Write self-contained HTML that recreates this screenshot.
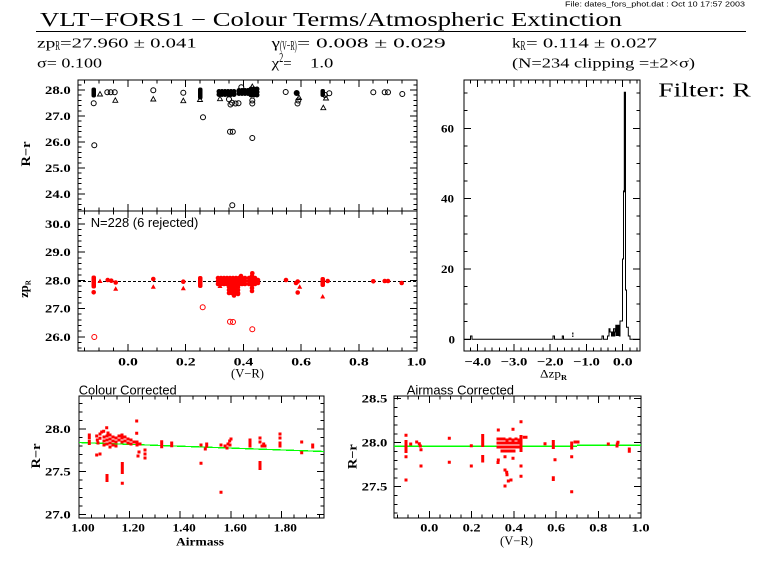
<!DOCTYPE html>
<html><head><meta charset="utf-8"><style>
html,body{margin:0;padding:0;background:#fff;}
svg{display:block;}
.s{font-family:"Liberation Serif",serif;}
.t{font-family:"Liberation Serif",serif;font-weight:bold;font-size:11.5px;}
.h{font-family:"Liberation Serif",serif;font-size:14px;}
.sa{font-family:"Liberation Sans",sans-serif;}
</style></head><body>
<svg width="768" height="574" viewBox="0 0 768 574" xmlns="http://www.w3.org/2000/svg">
<rect width="768" height="574" fill="#fff"/>
<defs>
<path id="xtA" d="M84.7 0v3.5M99.2 0v3.5M113.6 0v3.5M128 0v7M142.4 0v3.5M156.9 0v3.5M171.3 0v3.5M185.7 0v7M200.1 0v3.5M214.6 0v3.5M229 0v3.5M243.4 0v7M257.8 0v3.5M272.3 0v3.5M286.7 0v3.5M301.1 0v7M315.5 0v3.5M330 0v3.5M344.4 0v3.5M358.8 0v7M373.2 0v3.5M387.7 0v3.5M402.1 0v3.5"/>
<path id="ytTop" d="M0 84.8h3.5M0 90h7M0 95.2h3.5M0 100.4h3.5M0 105.6h3.5M0 110.8h3.5M0 116h7M0 121.2h3.5M0 126.4h3.5M0 131.6h3.5M0 136.8h3.5M0 142h7M0 147.2h3.5M0 152.4h3.5M0 157.6h3.5M0 162.8h3.5M0 168h7M0 173.2h3.5M0 178.4h3.5M0 183.6h3.5M0 188.8h3.5M0 194h7M0 199.2h3.5M0 204.4h3.5M0 209.6h3.5"/>
<path id="ytMid" d="M0 218.4h3.5M0 224h7M0 229.6h3.5M0 235.3h3.5M0 240.9h3.5M0 246.6h3.5M0 252.2h7M0 257.8h3.5M0 263.5h3.5M0 269.1h3.5M0 274.8h3.5M0 280.4h7M0 286h3.5M0 291.7h3.5M0 297.3h3.5M0 303h3.5M0 308.6h7M0 314.2h3.5M0 319.9h3.5M0 325.5h3.5M0 331.2h3.5M0 336.8h7M0 342.4h3.5M0 348.1h3.5"/>
<path id="xtH" d="M470.5 0v3.5M477.7 0v7M485 0v3.5M492.2 0v3.5M499.5 0v3.5M506.7 0v3.5M514 0v7M521.2 0v3.5M528.5 0v3.5M535.7 0v3.5M543 0v3.5M550.2 0v7M557.5 0v3.5M564.7 0v3.5M572 0v3.5M579.2 0v3.5M586.5 0v7M593.7 0v3.5M601 0v3.5M608.2 0v3.5M615.5 0v3.5M622.7 0v7M630 0v3.5M637.2 0v3.5"/>
<path id="ytH" d="M0 93.1h3.5M0 110.7h3.5M0 128.3h7M0 145.9h3.5M0 163.5h3.5M0 181h3.5M0 198.6h7M0 216.2h3.5M0 233.8h3.5M0 251.4h3.5M0 269h7M0 286.5h3.5M0 304.1h3.5M0 321.7h3.5M0 339.3h7"/>
<path id="xtBL" d="M91.7 0v3.5M104.3 0v3.5M117 0v3.5M129.6 0v7M142.3 0v3.5M154.9 0v3.5M167.6 0v3.5M180.2 0v7M192.9 0v3.5M205.5 0v3.5M218.2 0v3.5M230.8 0v7M243.5 0v3.5M256.1 0v3.5M268.8 0v3.5M281.4 0v7M294.1 0v3.5M306.7 0v3.5M319.4 0v3.5"/>
<path id="ytBL" d="M0 403.4h3.5M0 411.9h3.5M0 420.5h3.5M0 429h7M0 437.5h3.5M0 446.1h3.5M0 454.6h3.5M0 463.1h3.5M0 471.7h7M0 480.2h3.5M0 488.7h3.5M0 497.3h3.5M0 505.8h3.5M0 514.3h7"/>
<path id="xtBR" d="M397.6 0v3.5M408.2 0v3.5M418.7 0v3.5M429.3 0v7M439.9 0v3.5M450.4 0v3.5M461 0v3.5M471.6 0v7M482.1 0v3.5M492.7 0v3.5M503.3 0v3.5M513.8 0v7M524.4 0v3.5M535 0v3.5M545.5 0v3.5M556.1 0v7M566.6 0v3.5M577.2 0v3.5M587.8 0v3.5M598.3 0v7M608.9 0v3.5M619.5 0v3.5M630 0v3.5"/>
<path id="ytBR" d="M0 398.7h7M0 407.5h3.5M0 416.3h3.5M0 425.1h3.5M0 433.9h3.5M0 442.7h7M0 451.5h3.5M0 460.3h3.5M0 469.1h3.5M0 477.9h3.5M0 486.7h7M0 495.5h3.5M0 504.3h3.5M0 513.1h3.5"/>
</defs>

<!-- Header -->
<text class="sa" x="565" y="6.5" font-size="7.5" textLength="180" lengthAdjust="spacingAndGlyphs">File: dates_fors_phot.dat : Oct 10 17:57 2003</text>
<text class="s" x="40" y="26" font-size="19.5" textLength="582" lengthAdjust="spacingAndGlyphs">VLT−FORS1 − Colour Terms/Atmospheric Extinction</text>
<line x1="36" y1="31.5" x2="746" y2="31.5" stroke="#000" stroke-width="1" shape-rendering="crispEdges"/>

<text class="h" x="37" y="47.5" textLength="18.3" lengthAdjust="spacingAndGlyphs">zp</text>
<text class="h" x="55.3" y="50" font-size="7" textLength="4.7" lengthAdjust="spacingAndGlyphs">R</text>
<text class="h" x="60" y="47.5" textLength="136.7" lengthAdjust="spacingAndGlyphs">=27.960 ± 0.041</text>
<text class="h" x="271.7" y="47.5" textLength="8.3" lengthAdjust="spacingAndGlyphs">γ</text>
<text class="h" x="280" y="50" font-size="7" textLength="16.7" lengthAdjust="spacingAndGlyphs">(V−R)</text>
<text class="h" x="297" y="47.5" textLength="148.7" lengthAdjust="spacingAndGlyphs">= 0.008 ± 0.029</text>
<text class="h" x="512" y="47.5" textLength="8.5" lengthAdjust="spacingAndGlyphs">k</text>
<text class="h" x="520.5" y="50" font-size="7" textLength="5" lengthAdjust="spacingAndGlyphs">R</text>
<text class="h" x="526" y="47.5" textLength="131" lengthAdjust="spacingAndGlyphs">= 0.114 ± 0.027</text>

<text class="h" x="37" y="67.5" textLength="65" lengthAdjust="spacingAndGlyphs">σ= 0.100</text>
<text class="h" x="271.7" y="67.5" textLength="7.6" lengthAdjust="spacingAndGlyphs">χ</text>
<text class="h" x="279.3" y="62" font-size="7" textLength="4" lengthAdjust="spacingAndGlyphs">2</text>
<text class="h" x="283.3" y="67.5" textLength="8.4" lengthAdjust="spacingAndGlyphs">=</text>
<text class="h" x="310" y="67.5" textLength="23.3" lengthAdjust="spacingAndGlyphs">1.0</text>
<text class="h" x="512" y="67.5" textLength="183" lengthAdjust="spacingAndGlyphs">(N=234 clipping =±2×σ)</text>

<text class="s" x="658.3" y="96.7" font-size="20" textLength="92.4" lengthAdjust="spacingAndGlyphs">Filter: R</text>

<!-- Frames and ticks -->
<g fill="none" stroke="#000" stroke-width="1" shape-rendering="crispEdges">
<rect x="78" y="80" width="339" height="131"/>
<rect x="78" y="211" width="339" height="140"/>
<rect x="464" y="80" width="176" height="271"/>
<rect x="79" y="396" width="245" height="122"/>
<rect x="394" y="396" width="247" height="122"/>
<use href="#xtA" transform="translate(0,80)"/>
<use href="#xtA" transform="translate(0,211) scale(1,-1)"/>
<use href="#xtA" transform="translate(0,211)"/>
<use href="#xtA" transform="translate(0,351) scale(1,-1)"/>
<use href="#ytTop" transform="translate(78,0)"/>
<use href="#ytTop" transform="translate(417,0) scale(-1,1)"/>
<use href="#ytMid" transform="translate(78,0)"/>
<use href="#ytMid" transform="translate(417,0) scale(-1,1)"/>
<use href="#xtH" transform="translate(0,80)"/>
<use href="#xtH" transform="translate(0,351) scale(1,-1)"/>
<use href="#ytH" transform="translate(464,0)"/>
<use href="#ytH" transform="translate(640,0) scale(-1,1)"/>
<use href="#xtBL" transform="translate(0,396)"/>
<use href="#xtBL" transform="translate(0,518) scale(1,-1)"/>
<use href="#ytBL" transform="translate(79,0)"/>
<use href="#ytBL" transform="translate(324,0) scale(-1,1)"/>
<use href="#xtBR" transform="translate(0,396)"/>
<use href="#xtBR" transform="translate(0,518) scale(1,-1)"/>
<use href="#ytBR" transform="translate(394,0)"/>
<use href="#ytBR" transform="translate(641,0) scale(-1,1)"/>
</g>

<!-- Labels -->
<g class="t">
<text x="45" y="94" textLength="25.7" lengthAdjust="spacingAndGlyphs">28.0</text>
<text x="45" y="120" textLength="25.7" lengthAdjust="spacingAndGlyphs">27.0</text>
<text x="45" y="146" textLength="25.7" lengthAdjust="spacingAndGlyphs">26.0</text>
<text x="45" y="172" textLength="25.7" lengthAdjust="spacingAndGlyphs">25.0</text>
<text x="45" y="198" textLength="25.7" lengthAdjust="spacingAndGlyphs">24.0</text>
<text x="45" y="228" textLength="25.7" lengthAdjust="spacingAndGlyphs">30.0</text>
<text x="45" y="256.2" textLength="25.7" lengthAdjust="spacingAndGlyphs">29.0</text>
<text x="45" y="284.4" textLength="25.7" lengthAdjust="spacingAndGlyphs">28.0</text>
<text x="45" y="312.6" textLength="25.7" lengthAdjust="spacingAndGlyphs">27.0</text>
<text x="45" y="340.8" textLength="25.7" lengthAdjust="spacingAndGlyphs">26.0</text>
<text x="118.2" y="365.5" textLength="19.7" lengthAdjust="spacingAndGlyphs">0.0</text>
<text x="175.9" y="365.5" textLength="19.7" lengthAdjust="spacingAndGlyphs">0.2</text>
<text x="233.6" y="365.5" textLength="19.7" lengthAdjust="spacingAndGlyphs">0.4</text>
<text x="291.3" y="365.5" textLength="19.7" lengthAdjust="spacingAndGlyphs">0.6</text>
<text x="349" y="365.5" textLength="19.7" lengthAdjust="spacingAndGlyphs">0.8</text>
<text x="406.7" y="365.5" textLength="19.7" lengthAdjust="spacingAndGlyphs">1.0</text>
<text x="231" y="377.5" font-weight="normal" font-size="12.5" textLength="33" lengthAdjust="spacingAndGlyphs">(V−R)</text>
<text transform="translate(30,154) rotate(-90)" text-anchor="middle" font-size="12.5" textLength="25" lengthAdjust="spacingAndGlyphs">R−r</text>
<text transform="translate(28,289) rotate(-90)" text-anchor="middle" font-size="12.5">zp<tspan font-size="7" dy="2.5">R</tspan></text>
<text x="441" y="132.3" textLength="13" lengthAdjust="spacingAndGlyphs">60</text>
<text x="441" y="202.6" textLength="13" lengthAdjust="spacingAndGlyphs">40</text>
<text x="441" y="273" textLength="13" lengthAdjust="spacingAndGlyphs">20</text>
<text x="448.5" y="343.3" textLength="6.5" lengthAdjust="spacingAndGlyphs">0</text>
<text x="464.4" y="365.5" textLength="26.7" lengthAdjust="spacingAndGlyphs">−4.0</text>
<text x="500.7" y="365.5" textLength="26.7" lengthAdjust="spacingAndGlyphs">−3.0</text>
<text x="536.9" y="365.5" textLength="26.7" lengthAdjust="spacingAndGlyphs">−2.0</text>
<text x="573.2" y="365.5" textLength="26.7" lengthAdjust="spacingAndGlyphs">−1.0</text>
<text x="612.9" y="365.5" textLength="19.7" lengthAdjust="spacingAndGlyphs">0.0</text>
<text x="540" y="377.5" font-weight="normal" font-size="12" textLength="21" lengthAdjust="spacingAndGlyphs">Δzp</text>
<text x="561" y="380" font-size="7" textLength="6" lengthAdjust="spacingAndGlyphs">R</text>
<text x="45" y="433" textLength="25.7" lengthAdjust="spacingAndGlyphs">28.0</text>
<text x="45" y="475.7" textLength="25.7" lengthAdjust="spacingAndGlyphs">27.5</text>
<text x="45" y="518.3" textLength="25.7" lengthAdjust="spacingAndGlyphs">27.0</text>
<text x="71.3" y="531.5" textLength="23.3" lengthAdjust="spacingAndGlyphs">1.00</text>
<text x="121.6" y="531.5" textLength="23.3" lengthAdjust="spacingAndGlyphs">1.20</text>
<text x="172.5" y="531.5" textLength="23.3" lengthAdjust="spacingAndGlyphs">1.40</text>
<text x="223.6" y="531.5" textLength="23.3" lengthAdjust="spacingAndGlyphs">1.60</text>
<text x="273.6" y="531.5" textLength="23.3" lengthAdjust="spacingAndGlyphs">1.80</text>
<text x="176" y="545.5" font-size="12" textLength="48" lengthAdjust="spacingAndGlyphs">Airmass</text>
<text transform="translate(40,456) rotate(-90)" text-anchor="middle" font-size="12.5" textLength="25" lengthAdjust="spacingAndGlyphs">R−r</text>
<text x="361.7" y="402.7" textLength="25.7" lengthAdjust="spacingAndGlyphs">28.5</text>
<text x="361.7" y="446.7" textLength="25.7" lengthAdjust="spacingAndGlyphs">28.0</text>
<text x="361.7" y="490.7" textLength="25.7" lengthAdjust="spacingAndGlyphs">27.5</text>
<text x="420.3" y="531.5" textLength="18" lengthAdjust="spacingAndGlyphs">0.0</text>
<text x="462.6" y="531.5" textLength="18" lengthAdjust="spacingAndGlyphs">0.2</text>
<text x="504.8" y="531.5" textLength="18" lengthAdjust="spacingAndGlyphs">0.4</text>
<text x="547.1" y="531.5" textLength="18" lengthAdjust="spacingAndGlyphs">0.6</text>
<text x="589.3" y="531.5" textLength="18" lengthAdjust="spacingAndGlyphs">0.8</text>
<text x="631.6" y="531.5" textLength="18" lengthAdjust="spacingAndGlyphs">1.0</text>
<text x="500" y="545" font-weight="normal" font-size="12.5" textLength="33" lengthAdjust="spacingAndGlyphs">(V−R)</text>
<text transform="translate(356.7,456.7) rotate(-90)" text-anchor="middle" font-size="12.5" textLength="25" lengthAdjust="spacingAndGlyphs">R−r</text>
</g>

<text class="sa" x="90.7" y="227" font-size="13" textLength="107.6" lengthAdjust="spacingAndGlyphs">N=228 (6 rejected)</text>
<text class="sa" x="78.7" y="394.5" font-size="13" textLength="98" lengthAdjust="spacingAndGlyphs">Colour Corrected</text>
<text class="sa" x="406.7" y="394.5" font-size="13" textLength="107.3" lengthAdjust="spacingAndGlyphs">Airmass Corrected</text>

<!-- Top panel data (black) -->
<g fill="none" stroke="#000" stroke-width="1">
<circle cx="93.7" cy="103.3" r="2.5"/><circle cx="94.3" cy="145.3" r="2.5"/>
<circle cx="107.3" cy="92.3" r="2.5"/><circle cx="110.7" cy="92.3" r="2.5"/><circle cx="114.7" cy="92.3" r="2.5"/>
<circle cx="153.3" cy="90.3" r="2.5"/><circle cx="183.3" cy="92.7" r="2.5"/><circle cx="203" cy="117.3" r="2.5"/>
<circle cx="229" cy="99.3" r="2.5"/><circle cx="232" cy="102.7" r="2.5"/><circle cx="235.5" cy="103.5" r="2.5"/>
<circle cx="230.5" cy="104.5" r="2.5"/><circle cx="238.5" cy="103.3" r="2.5"/><circle cx="241.3" cy="87.3" r="2.5"/>
<circle cx="252.3" cy="100.5" r="2.5"/><circle cx="252.3" cy="103.5" r="2.5"/><circle cx="252.3" cy="138" r="2.5"/>
<circle cx="230" cy="131.7" r="2.5"/><circle cx="232.8" cy="131.7" r="2.5"/><circle cx="232.3" cy="205.3" r="2.5"/>
<circle cx="285.7" cy="92" r="2.5"/><circle cx="298.3" cy="100.5" r="2.5"/><circle cx="297.5" cy="103.5" r="2.5"/>
<circle cx="329.3" cy="93.3" r="2.5"/><circle cx="373.3" cy="92.3" r="2.5"/><circle cx="384.7" cy="92.3" r="2.5"/>
<circle cx="388" cy="92.3" r="2.5"/><circle cx="402.3" cy="94" r="2.5"/><circle cx="325" cy="95" r="2.5"/>
<path stroke-width="0.9" d="M97.5 96l2.5-4.5 2.5 4.5zM112.8 102.3l2.5-4.5 2.5 4.5zM150.8 101l2.5-4.5 2.5 4.5zM180.8 102.7l2.5-4.5 2.5 4.5zM197.5 101.5l2.5-4.5 2.5 4.5zM217.5 100.7l2.5-4.5 2.5 4.5zM249.8 88.5l2.5-4.5 2.5 4.5zM320.8 109.7l2.5-4.5 2.5 4.5zM296.5 99.5l2.5-4.5 2.5 4.5zM323.5 100l2.5-4.5 2.5 4.5z"/>
</g>
<g fill="#000">
<rect x="91.5" y="87.5" width="4.5" height="10" rx="2"/>
<rect x="198" y="87.5" width="4.5" height="12" rx="2"/>
<rect x="320.5" y="89" width="4.5" height="8" rx="2"/>
<circle cx="296.7" cy="93" r="3"/>
<circle cx="219" cy="91.5" r="2.5"/><circle cx="222" cy="91.5" r="2.5"/><circle cx="225" cy="91.5" r="2.5"/><circle cx="228" cy="91.5" r="2.5"/><circle cx="231" cy="91.5" r="2.5"/><circle cx="234" cy="91.5" r="2.5"/>
<circle cx="219" cy="94.5" r="2.5"/><circle cx="222" cy="94.5" r="2.5"/><circle cx="225" cy="94.5" r="2.5"/><circle cx="228" cy="94.5" r="2.5"/><circle cx="231" cy="94.5" r="2.5"/><circle cx="234" cy="94.5" r="2.5"/>
<circle cx="239" cy="90.5" r="2.5"/><circle cx="242" cy="90.5" r="2.5"/><circle cx="245" cy="90.5" r="2.5"/><circle cx="248" cy="90.5" r="2.5"/>
<circle cx="239" cy="93.5" r="2.5"/><circle cx="242" cy="93.5" r="2.5"/><circle cx="245" cy="93.5" r="2.5"/><circle cx="248" cy="93.5" r="2.5"/>
<circle cx="251" cy="89" r="2.5"/><circle cx="254" cy="89" r="2.5"/><circle cx="257" cy="89" r="2.5"/>
<circle cx="251" cy="92" r="2.5"/><circle cx="254" cy="92" r="2.5"/><circle cx="257" cy="92" r="2.5"/>
<circle cx="251" cy="95" r="2.5"/><circle cx="254" cy="95" r="2.5"/><circle cx="257" cy="95" r="2.5"/>
</g>

<!-- Middle panel -->
<line x1="78" y1="281.5" x2="417" y2="281.5" stroke="#000" stroke-width="1" stroke-dasharray="3 2" shape-rendering="crispEdges"/>
<g fill="#f00">
<rect x="91.5" y="275.5" width="4.5" height="13" rx="2"/>
<rect x="198" y="276" width="4.5" height="12" rx="2"/>
<rect x="320.5" y="277" width="4.5" height="10" rx="2"/>
<circle cx="93.7" cy="292.3" r="2.3"/><circle cx="107.7" cy="280" r="2.3"/><circle cx="111.3" cy="280.7" r="2.3"/>
<circle cx="115.7" cy="282.5" r="2.3"/><circle cx="153.3" cy="279" r="2.3"/><circle cx="183.3" cy="281.7" r="2.3"/>
<circle cx="241" cy="276" r="2.3"/><circle cx="252.3" cy="273.3" r="2.3"/><circle cx="286" cy="280" r="2.3"/>
<circle cx="297.7" cy="281.5" r="2.3"/><circle cx="297.7" cy="292.5" r="2.3"/><circle cx="296" cy="283" r="2.3"/>
<circle cx="327.7" cy="281" r="2.3"/><circle cx="373.3" cy="281.3" r="2.3"/><circle cx="384.7" cy="281" r="2.3"/>
<circle cx="388" cy="281" r="2.3"/><circle cx="401.7" cy="283" r="2.3"/>
<circle cx="218" cy="278" r="2.3"/><circle cx="221" cy="278" r="2.3"/><circle cx="224" cy="278" r="2.3"/><circle cx="227" cy="278" r="2.3"/><circle cx="230" cy="278" r="2.3"/><circle cx="233" cy="278" r="2.3"/><circle cx="236" cy="278" r="2.3"/><circle cx="239" cy="278" r="2.3"/><circle cx="242" cy="278" r="2.3"/><circle cx="245" cy="278" r="2.3"/>
<circle cx="218" cy="281" r="2.3"/><circle cx="221" cy="281" r="2.3"/><circle cx="224" cy="281" r="2.3"/><circle cx="227" cy="281" r="2.3"/><circle cx="230" cy="281" r="2.3"/><circle cx="233" cy="281" r="2.3"/><circle cx="236" cy="281" r="2.3"/><circle cx="239" cy="281" r="2.3"/><circle cx="242" cy="281" r="2.3"/><circle cx="245" cy="281" r="2.3"/>
<circle cx="218" cy="284" r="2.3"/><circle cx="221" cy="284" r="2.3"/><circle cx="224" cy="284" r="2.3"/><circle cx="227" cy="284" r="2.3"/><circle cx="230" cy="284" r="2.3"/><circle cx="233" cy="284" r="2.3"/><circle cx="236" cy="284" r="2.3"/><circle cx="239" cy="284" r="2.3"/><circle cx="242" cy="284" r="2.3"/><circle cx="245" cy="284" r="2.3"/>
<circle cx="229" cy="287" r="2.3"/><circle cx="232" cy="287" r="2.3"/><circle cx="235" cy="287" r="2.3"/><circle cx="238" cy="287" r="2.3"/>
<circle cx="229" cy="290" r="2.3"/><circle cx="232" cy="290" r="2.3"/><circle cx="235" cy="290" r="2.3"/><circle cx="238" cy="290" r="2.3"/>
<circle cx="229" cy="293" r="2.3"/><circle cx="232" cy="293" r="2.3"/><circle cx="235" cy="293" r="2.3"/><circle cx="238" cy="293" r="2.3"/>
<circle cx="234" cy="295.5" r="2.3"/><circle cx="238" cy="294" r="2.3"/>
<circle cx="249" cy="278" r="2.3"/><circle cx="249" cy="281" r="2.3"/><circle cx="249" cy="284" r="2.3"/>
<circle cx="252" cy="276" r="2.3"/><circle cx="252" cy="279" r="2.3"/><circle cx="252" cy="282" r="2.3"/><circle cx="252" cy="285" r="2.3"/><circle cx="252" cy="288" r="2.3"/><circle cx="252" cy="291" r="2.3"/>
<circle cx="255" cy="278" r="2.3"/><circle cx="255" cy="281" r="2.3"/><circle cx="255" cy="284" r="2.3"/>
<circle cx="258" cy="280" r="2.3"/><circle cx="258" cy="283" r="2.3"/>
<path d="M97.5 283l2.5-4.5 2.5 4.5zM113.2 290.7l2.5-4.5 2.5 4.5zM150.8 288.7l2.5-4.5 2.5 4.5zM180.8 290.3l2.5-4.5 2.5 4.5zM217.5 288l2.5-4.5 2.5 4.5zM297.2 288.7l2.5-4.5 2.5 4.5zM320.2 298.5l2.5-4.5 2.5 4.5z"/>
</g>
<g fill="none" stroke="#f00" stroke-width="1">
<circle cx="94.3" cy="337" r="2.5"/><circle cx="202.7" cy="307.3" r="2.5"/>
<circle cx="230" cy="321.7" r="2.5"/><circle cx="233" cy="322" r="2.5"/><circle cx="252.3" cy="329.3" r="2.5"/>
</g>

<!-- Histogram -->
<polyline fill="none" stroke="#000" stroke-width="1" points="464,339.3 470.5,339.3 470.5,336 472,336 472,339.3 553,339.3 553,336 554.5,336 554.5,339.3 562.3,339.3 562.3,336 563.5,336 563.5,339.3 602,339.3 602,336 603.5,336 603.5,339.3 607.5,339.3 607.5,336 609,336 609,328.7 610,328.7 610,332 611.5,332 611.5,336 612.5,336 612.5,332 613.5,332 613.5,328.7 615,328.7 615,332 615.8,332 615.8,325.2 619.3,325.2 619.3,336 620,336 620,321 622.5,321 622.5,259 623.5,259 623.5,191 624.3,191 624.3,92.3 625.5,92.3 625.5,290 626.5,290 626.5,327.3 628.3,327.3 628.3,336 630,336 630,339.3 640,339.3"/>
<g fill="#000">
<rect x="615.7" y="325" width="3.6" height="11"/>
<rect x="612.3" y="331.5" width="3" height="5"/>
<rect x="572.2" y="332.5" width="1.2" height="2"/>
<rect x="572.2" y="335.5" width="1.2" height="1.5"/>
<rect x="624" y="92.3" width="1.8" height="100"/>
</g>

<!-- Bottom-left -->
<line x1="79" y1="442.5" x2="324" y2="451.5" stroke="#00ff00" stroke-width="1.3" shape-rendering="crispEdges"/>
<path fill="#f00" d="M87.8 433.5h3v3h-3zM87.8 436.5h3v3h-3zM87.8 440h3v3h-3zM87.8 442h3v3h-3zM95.2 453.5h3v3h-3zM98.5 452.5h3v3h-3zM95.2 434.5h3v3h-3zM95.8 438.5h3v3h-3zM96.5 441.5h3v3h-3zM98.5 436.8h3v3h-3zM98.5 432.5h3v3h-3zM100.2 430.5h3v3h-3zM102.2 429.8h3v3h-3zM105.2 426.2h3v3h-3zM102.5 435.5h3v3h-3zM102.5 439.5h3v3h-3zM102.5 443.5h3v3h-3zM105.5 434.5h3v3h-3zM105.5 438.5h3v3h-3zM105.5 442.5h3v3h-3zM108.5 433.5h3v3h-3zM108.5 437.5h3v3h-3zM108.5 441.5h3v3h-3zM108.5 445.5h3v3h-3zM111.5 435.5h3v3h-3zM111.5 439.5h3v3h-3zM111.5 443.5h3v3h-3zM114.5 436.5h3v3h-3zM114.5 440.5h3v3h-3zM114.5 444.5h3v3h-3zM106.5 431.5h3v3h-3zM105.5 474h3v8h-3zM120.8 462h3v12h-3zM120.8 481.8h3v3h-3zM117.5 434.5h3v3h-3zM117.5 438.5h3v3h-3zM120.5 433.5h3v3h-3zM120.5 436.5h3v3h-3zM120.5 440.5h3v3h-3zM123.5 435.5h3v3h-3zM123.5 439.5h3v3h-3zM126.5 437.5h3v3h-3zM126.5 441.5h3v3h-3zM129.5 438.5h3v3h-3zM129.5 442.5h3v3h-3zM132.5 440.5h3v3h-3zM135.5 440.5h3v3h-3zM135.5 443.5h3v3h-3zM138.5 442.5h3v3h-3zM135.2 419.5h3v3h-3zM135.2 431.8h3v3h-3zM136.5 454.5h3v3h-3zM137.5 450.5h3v3h-3zM143.5 448.5h3v3h-3zM143.5 452.5h3v3h-3zM143.5 456.5h3v3h-3zM160.2 440.2h3v3h-3zM160.2 442.5h3v3h-3zM160.2 445.2h3v3h-3zM170.2 441.5h3v3h-3zM170.2 444.2h3v3h-3zM199.5 443.5h3v3h-3zM199.5 461.8h3v3h-3zM205.2 442.5h3v3h-3zM205.2 444.5h3v3h-3zM203.8 447.5h3v3h-3zM219.5 490.8h3v3h-3zM219.5 443.5h3v3h-3zM223.5 444.5h3v3h-3zM226.5 442.5h3v3h-3zM228.2 439.5h3v3h-3zM228.5 443.5h3v3h-3zM229.5 437.5h3v3h-3zM225.5 446.5h3v3h-3zM248.5 438.5h3v3h-3zM248.5 441.5h3v3h-3zM248.5 444.5h3v3h-3zM258.5 461h3v9h-3zM258.5 436.5h3v3h-3zM258.5 440.5h3v3h-3zM260.5 444.5h3v3h-3zM262.2 442.5h3v3h-3zM263.5 444.5h3v3h-3zM278.5 432.5h3v3h-3zM278.5 436.5h3v3h-3zM278.5 441.5h3v3h-3zM278.5 444.5h3v3h-3zM300.2 440.5h3v3h-3zM300.2 451.2h3v3h-3zM311.2 443.5h3v3h-3zM311.2 445.5h3v3h-3z"/>

<!-- Bottom-right -->
<g stroke="#00ff00" stroke-width="1.3" shape-rendering="crispEdges">
<line x1="394" y1="446.3" x2="577" y2="446.3"/>
<line x1="577" y1="445.3" x2="641" y2="445.3"/>
</g>
<path fill="#f00" d="M404.5 433.8h3v3h-3zM404.5 440h3v13h-3zM404.5 455.2h3v3h-3zM404.5 478.5h3v3h-3zM409.2 442.5h3v3h-3zM415.2 440.5h3v3h-3zM417.8 442.2h3v3h-3zM418.8 444.5h3v3h-3zM419.5 448.2h3v3h-3zM419.5 464.5h3v3h-3zM447.8 436.8h3v3h-3zM447.8 460.8h3v3h-3zM469.8 444.2h3v3h-3zM469.8 464.5h3v3h-3zM481.2 434h3v13h-3zM481.2 455h3v7.5h-3zM496.8 428.5h3v3h-3zM496.8 458.5h3v3h-3zM496.5 461h3v3h-3zM496.5 437.5h3v3h-3zM499.5 437.5h3v3h-3zM502.5 437.5h3v3h-3zM505.5 438.5h3v3h-3zM508.5 437.5h3v3h-3zM511.5 438.5h3v3h-3zM514.5 437.5h3v3h-3zM517.5 438.5h3v3h-3zM496.5 441.5h3v3h-3zM499.5 441.5h3v3h-3zM502.5 441.5h3v3h-3zM505.5 441.5h3v3h-3zM508.5 441.5h3v3h-3zM511.5 441.5h3v3h-3zM514.5 441.5h3v3h-3zM517.5 441.5h3v3h-3zM496.5 445.5h3v3h-3zM499.5 445.5h3v3h-3zM502.5 445.5h3v3h-3zM505.5 445.5h3v3h-3zM508.5 445.5h3v3h-3zM511.5 445.5h3v3h-3zM514.5 445.5h3v3h-3zM517.5 445.5h3v3h-3zM500.5 449.5h3v3h-3zM503.5 449.5h3v3h-3zM506.5 449.5h3v3h-3zM509.5 449.5h3v3h-3zM512.5 449.5h3v3h-3zM503.5 455.2h3v3h-3zM503.5 468.5h3v3h-3zM505.2 470.8h3v3h-3zM505.5 473.2h3v3h-3zM503.5 484.5h3v3h-3zM506.8 479.5h3v3h-3zM509.5 478.5h3v3h-3zM511.5 427.8h3v3h-3zM511.5 456.8h3v3h-3zM519.5 420.2h3v3h-3zM519.5 435h3v17h-3zM519.5 464.5h3v3h-3zM519.5 474.8h3v3h-3zM522.8 435.8h3v3h-3zM524.5 435.8h3v3h-3zM543.5 442.2h3v3h-3zM551.8 440h3v9h-3zM551.8 476.2h3v3h-3zM551.8 478h3v3h-3zM553.5 458.2h3v3h-3zM570.2 441.5h3v8h-3zM570.2 455.2h3v3h-3zM570.2 490.2h3v3h-3zM573.5 440.5h3v3h-3zM576.5 440.5h3v3h-3zM606.8 442.5h3v3h-3zM615.8 442.5h3v3h-3zM616.5 440.8h3v3h-3zM615.5 444.5h3v3h-3zM627.8 447.5h3v3h-3zM627.8 449.8h3v3h-3z"/>
</svg>
</body></html>
